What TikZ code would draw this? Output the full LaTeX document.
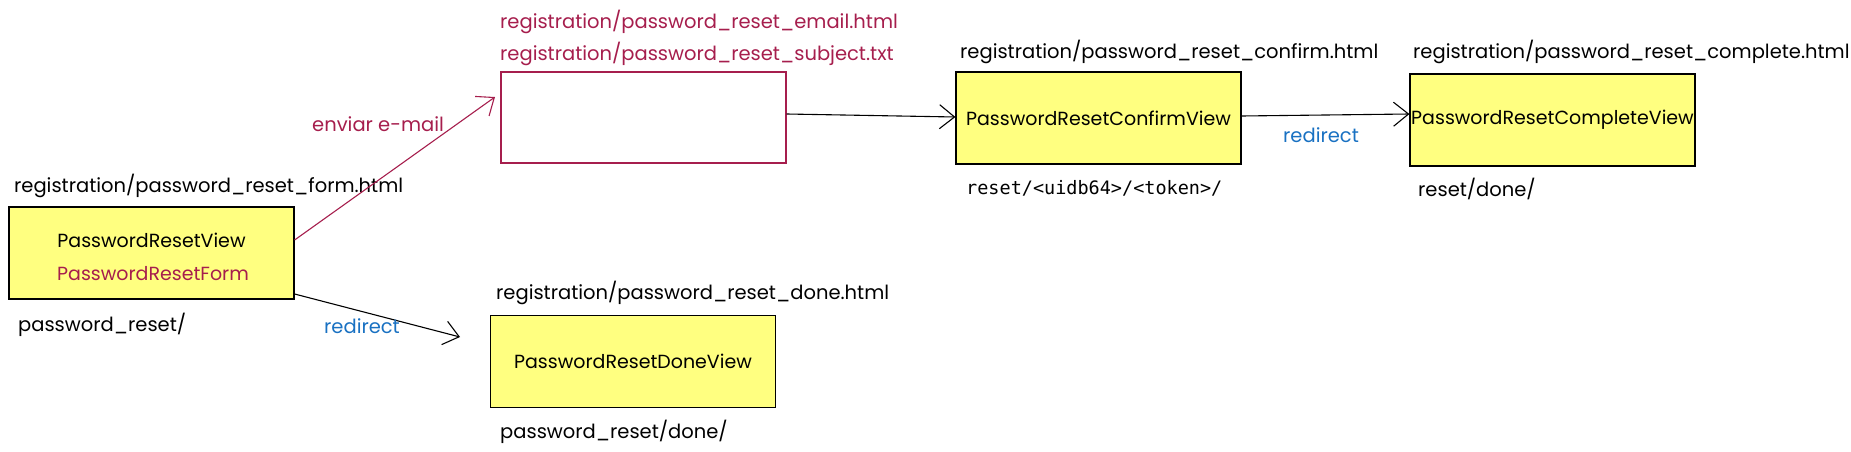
\documentclass[tikz,border=0pt]{standalone}
\usepackage{fontspec}
\setmainfont{Poppins}
\setmonofont{DejaVu Sans Mono}
\usetikzlibrary{arrows.meta}
\definecolor{boxyellow}{RGB}{255,255,128}
\definecolor{crim}{RGB}{166,30,77}
\definecolor{linkblue}{RGB}{25,113,194}
\tikzset{
  hand/.style={font=\fontsize{19.5}{22}\selectfont},
  inbox/.style={font=\fontsize{19}{22}\selectfont},
  viewbox/.style={draw=black, fill=boxyellow, line width=1.2pt, minimum width=285pt, minimum height=92pt, inner sep=0pt},
  mailbox/.style={draw=crim, fill=white, line width=1.2pt, minimum width=285pt, minimum height=91pt, inner sep=0pt},
  lbl/.style={hand, inner sep=0pt, anchor=west},
  mono/.style={font=\ttfamily\fontsize{18.5}{21}\selectfont, inner sep=0pt, anchor=west},
  conn/.style={line width=1.1pt, -{Straight Barb[length=15pt,width=24pt,line width=1.1pt]}},
}
\begin{document}
\begin{tikzpicture}[x=1pt,y=-1pt]
\useasboundingbox (0,0) rectangle (1851,452);
% boxes
\node[viewbox] (prv) at (151.5,253) {};
\node[inbox] (prvt) at (151.5,240) {PasswordResetView};
\node[inbox, text=crim] (prft) at (153,274) {PasswordResetForm};
\node[mailbox] (mail) at (643.5,117.5) {};
\node[viewbox] (conf) at (1098.5,118) {};
\node[inbox] (conft) at (1098.5,118) {PasswordResetConfirmView};
\node[viewbox] (comp) at (1552.5,120) {};
\node[inbox] (compt) at (1552.5,120) {PasswordResetCompleteView};
\node[viewbox] (done) at (633,361.5) {};
\node[inbox] (donet) at (633,361) {PasswordResetDoneView};
% labels
\node[lbl] (l1) at (14,186) {registration/password\_reset\_form.html};
\node[lbl] (l2) at (18,325) {password\_reset/};
\node[lbl, text=crim] (l3) at (500,22) {registration/password\_reset\_email.html};
\node[lbl, text=crim] (l4) at (500,54) {registration/password\_reset\_subject.txt};
\node[lbl] (l5) at (960,52) {registration/password\_reset\_confirm.html};
\node[mono] (l6) at (966,188) {reset/<uidb64>/<token>/};
\node[lbl] (l7) at (1413,52) {registration/password\_reset\_complete.html};
\node[lbl] (l8) at (1418,189) {reset/done/};
\node[lbl] (l9) at (496,293) {registration/password\_reset\_done.html};
\node[lbl] (l10) at (500,432) {password\_reset/done/};
% connectors
\coordinate (a1) at (prv.east |- 0,240);
\coordinate (a2) at (prv.east |- 0,294);
\draw[conn, draw=crim] (a1) -- (495,97) coordinate (mailin);
\node[lbl, text=crim] (el) at (312,124) {enviar e-mail};
\draw[conn] (a2) -- (460,337) coordinate (donein);
\node[lbl, text=linkblue] (r1) at (324,326) {redirect};
\draw[conn] (mail.east |- 0,114) -- (conf.west |- 0,117);
\draw[conn] (conf.east |- 0,116) -- (comp.west |- 0,114);
\node[lbl, text=linkblue] (r2) at (1283,135) {redirect};
\end{tikzpicture}
\end{document}
